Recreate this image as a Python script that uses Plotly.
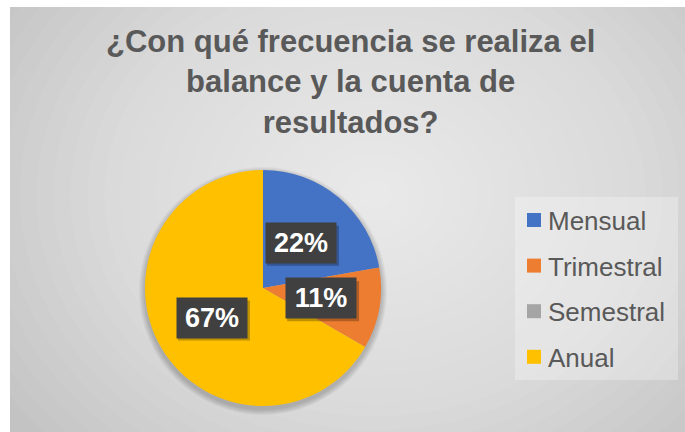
import math
import plotly.graph_objects as go

# ---- data ----
labels = ["Mensual", "Trimestral", "Semestral", "Anual"]
values = [2, 1, 0, 6]
colors = ["#4472C4", "#ED7D31", "#A5A5A5", "#FFC000"]
title_text = "¿Con qué frecuencia se realiza el<br>balance y la cuenta de<br>resultados?"

W, H = 685, 432
def px(x): return x / W
def py(y): return 1 - y / H

# pie geometry (pixels)
CX, CY, R = 263, 288, 118

shapes = []
# background box
shapes.append(dict(type="rect", xref="paper", yref="paper", layer="below",
                   x0=px(10), x1=1, y0=0, y1=py(7), line=dict(width=0),
                   fillcolor="#c3c3c3"))
# radial gradient via stacked ellipses
N = 26
gx, gy, rx, ry = 375, 195, 440, 360
for i in range(N):
    f = 1 - i / N
    shapes.append(dict(type="circle", xref="paper", yref="paper", layer="below",
                       x0=px(gx - rx * f), x1=px(gx + rx * f),
                       y0=py(gy + ry * f), y1=py(gy - ry * f),
                       line=dict(width=0), fillcolor="white", opacity=0.052))
# white margins over gradient overflow
shapes.append(dict(type="rect", xref="paper", yref="paper", layer="below",
                   x0=-0.05, x1=px(10), y0=-0.05, y1=1.05, line=dict(width=0), fillcolor="white"))
shapes.append(dict(type="rect", xref="paper", yref="paper", layer="below",
                   x0=-0.05, x1=1.05, y0=py(7), y1=1.05, line=dict(width=0), fillcolor="white"))
# pie shadow
for k in range(6):
    r = R + 1 + k
    shapes.append(dict(type="circle", xref="paper", yref="paper", layer="below",
                       x0=px(CX - r), x1=px(CX + r), y0=py(CY + 3 + r), y1=py(CY + 3 - r),
                       line=dict(width=0), fillcolor="black", opacity=0.035))
# legend background
shapes.append(dict(type="rect", xref="paper", yref="paper", layer="below",
                   x0=px(515), x1=px(678), y0=py(380), y1=py(197),
                   line=dict(width=0), fillcolor="rgba(255,255,255,0.28)"))

annotations = []
# title
annotations.append(dict(text="<b>" + title_text.replace("<br>", "</b><br><b>") + "</b>",
                        xref="paper", yref="paper",
                        x=px(350), y=py(82), xanchor="center", yanchor="middle",
                        showarrow=False, align="center",
                        font=dict(family="Liberation Sans, Arial", size=31, color="#595959")))

# data labels
total = sum(values)
cum = 0
for lab, v in zip(labels, values):
    if v > 0:
        mid = (cum + v / 2) / total * 2 * math.pi
        lx = CX + 0.5 * R * math.sin(mid)
        ly = CY - 0.5 * R * math.cos(mid)
        shapes.append(dict(type="rect", xref="paper", yref="paper", layer="above",
                           x0=px(lx - 34), x1=px(lx + 38), y0=py(ly + 23), y1=py(ly - 17),
                           line=dict(width=0), fillcolor="rgba(0,0,0,0.25)"))
        annotations.append(dict(text="<b>%d%%</b>" % round(100 * v / total),
                                xref="paper", yref="paper", x=px(lx), y=py(ly),
                                xanchor="center", yanchor="middle", showarrow=False,
                                bgcolor="#404040", width=60, height=30, borderpad=5,
                                font=dict(family="Liberation Sans, Arial", size=27, color="white")))
    cum += v

# manual legend
for i, (lab, c) in enumerate(zip(labels, colors)):
    yc = 220 + i * 45.6
    shapes.append(dict(type="rect", xref="paper", yref="paper", layer="above",
                       x0=px(527), x1=px(541), y0=py(yc + 7), y1=py(yc - 7),
                       line=dict(width=0), fillcolor=c))
    annotations.append(dict(text=lab, xref="paper", yref="paper", x=px(546), y=py(yc + 1),
                            xanchor="left", yanchor="middle", showarrow=False,
                            font=dict(family="Liberation Sans, Arial", size=26, color="#595959")))

fig = go.Figure(go.Pie(
    labels=labels, values=values, sort=False, direction="clockwise", rotation=0,
    marker=dict(colors=colors, line=dict(width=0)),
    textinfo="none", hoverinfo="label+percent", showlegend=False,
    domain=dict(x=[px(CX - R), px(CX + R)], y=[py(CY + R), py(CY - R)]),
))

fig.update_layout(
    width=W, height=H, margin=dict(l=0, r=0, t=0, b=0),
    paper_bgcolor="white", plot_bgcolor="white",
    shapes=shapes, annotations=annotations, showlegend=False,
)

fig.write_html("out.html", config={"displayModeBar": False},
               post_script="document.body.style.margin='0px';document.body.style.overflow='hidden';")
